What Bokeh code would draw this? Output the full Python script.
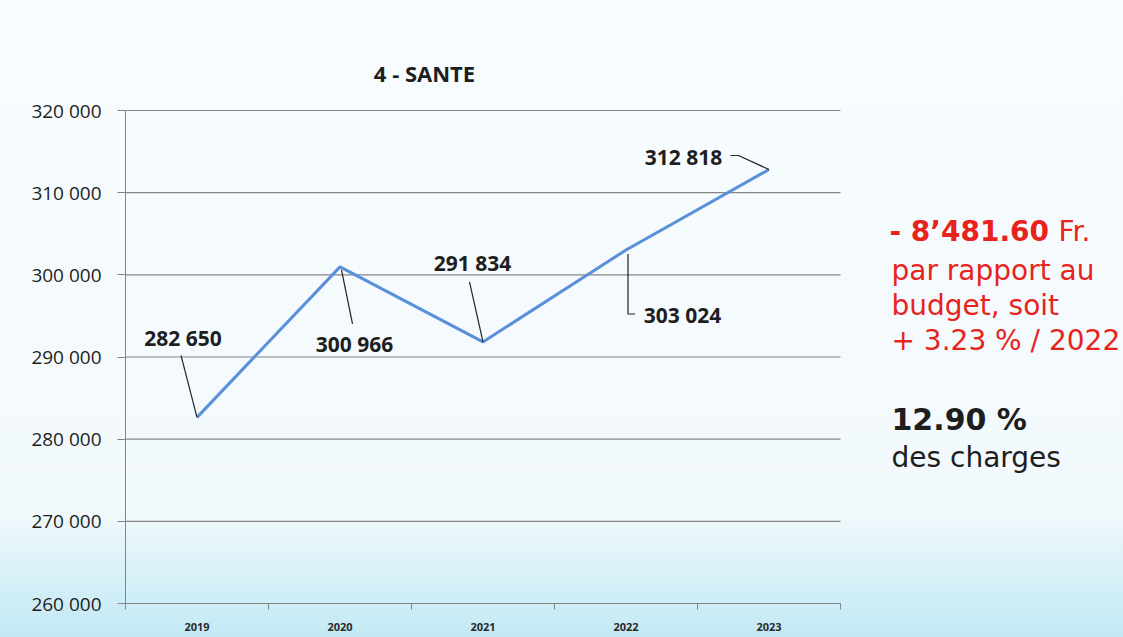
from bokeh.plotting import figure
from bokeh.models import FixedTicker, ColumnDataSource, InlineStyleSheet, Range1d
from bokeh.core.properties import value
from bokeh.embed import file_html
from bokeh.resources import INLINE

# ---- data ----
years = ["2019", "2020", "2021", "2022", "2023"]
amounts = [282650, 300966, 291834, 303024, 312818]
y_ticks = [260000, 270000, 280000, 290000, 300000, 310000, 320000]
title_text = "4 - SANTE"
note_bold = "- 8\u2019481.60"
note_unit = "Fr."
note_red_lines = ["par rapport au", "budget, soit", "+ 3.23 % / 2022"]
share_bold = "12.90 %"
share_text = "des charges"

def fmt(v):
    return f"{v:,}".replace(",", " ")

# ---- geometry ----
W, H = 1123, 637
AX_L, AX_T, AX_W, AX_H = 125, 110, 715, 493   # visible chart box (px)
XA0, XA1 = 0.5, len(years) + 0.5
YA0, YA1 = y_ticks[0], y_ticks[-1]
PX_X = (XA1 - XA0) / AX_W          # data units per px (x)
PX_Y = (YA1 - YA0) / AX_H          # data units per px (y)
BOTTOM = H - (AX_T + AX_H)

x_range = Range1d(XA0, XA0 + (W - AX_L) * PX_X)
y_range = Range1d(YA0, YA1 + AX_T * PX_Y)

def ddx(px):
    return px * PX_X

def ddy(px):
    return -px * PX_Y

def page_xy(px, py):
    return XA0 + (px - AX_L) * PX_X, YA1 - (py - AX_T) * PX_Y

xs = list(range(1, len(years) + 1))

p = figure(width=W, height=H, x_range=x_range, y_range=y_range,
           output_backend="svg", toolbar_location=None,
           min_border_left=AX_L, min_border_right=0,
           min_border_top=0, min_border_bottom=BOTTOM)
p.border_fill_color = None
p.background_fill_color = None
p.outline_line_color = None
p.stylesheets = [InlineStyleSheet(css=":host { background: linear-gradient(to bottom, #f8fcfe 0%, #f2f9fc 80%, #d6f0f7 91%, #c3e9f4 100%); }")]

GRID = "#858585"

# y axis
yax = p.yaxis[0]
yax.bounds = (YA0, YA1)
yax.ticker = FixedTicker(ticks=y_ticks)
yax.major_label_overrides = {t: fmt(t) for t in y_ticks}
yax.axis_line_color = GRID
yax.major_tick_line_color = GRID
yax.major_tick_out = 8
yax.major_tick_in = 0
yax.minor_tick_line_color = None
yax.major_label_standoff = 16
yax.major_label_text_font = "Open Sans"
yax.major_label_text_font_size = "19px"
yax.major_label_text_color = "#1e1e1e"

# x axis
xax = p.xaxis[0]
xax.bounds = (XA0, XA1)
xax.ticker = FixedTicker(ticks=xs, minor_ticks=[i + 0.5 for i in range(0, len(years) + 1)])
xax.major_label_overrides = {i: y for i, y in zip(xs, years)}
xax.axis_line_color = GRID
xax.major_tick_line_color = None
xax.minor_tick_line_color = GRID
xax.minor_tick_out = 6
xax.minor_tick_in = 0
xax.major_label_standoff = 13
xax.major_label_text_font = "Open Sans"
xax.major_label_text_font_style = "bold"
xax.major_label_text_font_size = "11px"
xax.major_label_text_color = "#2a2a2a"

p.xgrid.grid_line_color = None
p.ygrid.grid_line_color = None

# horizontal gridlines limited to the chart box
p.segment(x0=[XA0] * len(y_ticks), x1=[XA1] * len(y_ticks), y0=y_ticks, y1=y_ticks,
          line_color=GRID, line_width=1.2)

# line
p.line(xs, amounts, line_color="#5a8fda", line_width=3)

# leader lines (pixel offsets relative to each point)
leader_px = [
    [(-16, -62), (0, 0)],
    [(1.5, 3), (12.5, 57)],
    [(-13.5, -60), (0, 0)],
    [(2, 4), (2, 64), (9, 64)],
    [(-38.5, -14), (-30.5, -14), (0, 0)],
]
lx = [[x + ddx(a) for a, b in path] for x, path in zip(xs, leader_px)]
ly = [[y + ddy(b) for a, b in path] for y, path in zip(amounts, leader_px)]
p.multi_line(lx, ly, line_color="#222222", line_width=1.2)

# data labels
label_off = [(-14, -79), (14.5, 77), (-10.5, -79), (56.5, 65.5), (-85.5, -13)]
src = ColumnDataSource(dict(x=xs, y=amounts, t=[fmt(v) for v in amounts],
                            xo=[o[0] for o in label_off], yo=[o[1] for o in label_off]))
p.text(x="x", y="y", text="t", x_offset="xo", y_offset="yo", source=src,
       text_align="center", text_baseline="middle",
       text_font=value("Open Sans"), text_font_style="bold",
       text_font_size="21px", text_color="#1e1e1e")

# title
tx, ty = page_xy(424, 72)
p.text(x=[tx], y=[ty], text=[title_text], text_align="center", text_baseline="middle",
       text_font=value("Open Sans"), text_font_style="bold", text_font_size="22px",
       text_color="#1e1e1e")

# right-side notes
RED = "#e8231c"
def note(px, py, txt, color, bold=False, size="28px"):
    x, y = page_xy(px, py)
    p.text(x=[x], y=[y], text=[txt], text_align="left", text_baseline="middle",
           text_font=value("DejaVu Sans"), text_font_style="bold" if bold else "normal",
           text_font_size=size, text_color=color)

note(889, 231, note_bold, RED, bold=True, size="28px")
note(1058, 231, note_unit, RED)
for line, py in zip(note_red_lines, [270, 305, 340]):
    note(891, py, line, RED)
note(891, 419, share_bold, "#1e1e1e", bold=True, size="30px")
note(891, 457, share_text, "#1e1e1e")

open("out.html", "w").write(file_html(p, INLINE))
